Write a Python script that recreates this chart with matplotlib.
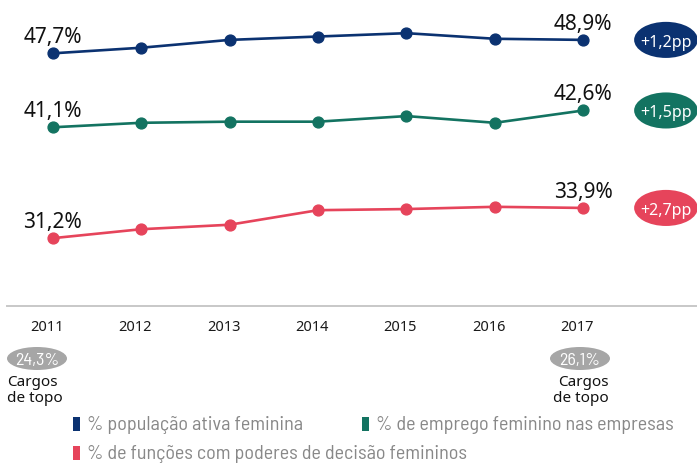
import matplotlib
matplotlib.use("Agg")
import matplotlib.pyplot as plt
from matplotlib.patches import Ellipse, Rectangle
from matplotlib import transforms

years = [2011, 2012, 2013, 2014, 2015, 2016, 2017]
pop_ativa = [47.7, 48.2, 48.9, 49.2, 49.5, 49.0, 48.9]
emprego = [41.1, 41.5, 41.6, 41.6, 42.1, 41.5, 42.6]
decisao = [31.2, 32.0, 32.4, 33.7, 33.8, 34.0, 33.9]
start_labels = ["47,7%", "41,1%", "31,2%"]
end_labels = ["48,9%", "42,6%", "33,9%"]
pp_labels = ["+1,2pp", "+1,5pp", "+2,7pp"]
topo_labels = ["24,3%", "26,1%"]
legend_names = ["% população ativa feminina",
                "% de emprego feminino nas empresas",
                "% de funções com poderes de decisão femininos"]

colors = ["#0b3271", "#137361", "#e6445b"]
main_font = ["Noto Sans", "DejaVu Sans"]
narrow_font = ["Barlow Semi Condensed", "Noto Sans", "DejaVu Sans"]
plt.rcParams["font.family"] = main_font

W, H = 697, 464
fig = plt.figure(figsize=(W / 100, H / 100), dpi=100)
ax = fig.add_axes([7 / W, 1 - 307.3 / H, 690 / W, 307.3 / H])
ax.set_xlim(2010.483, 2018.286)
ax.set_ylim(25.12, 52.55)

series = [pop_ativa, emprego, decisao]
for vals, col, s_lab, e_lab, pp in zip(series, colors, start_labels, end_labels, pp_labels):
    ax.plot(years, vals, color=col, lw=1.9, marker="o", ms=7.8, solid_capstyle="round")
    ax.annotate(s_lab, (years[0], vals[0]), xytext=(0, 8), textcoords="offset points",
                ha="center", va="baseline", fontsize=15, color="#111111")
    ax.annotate(e_lab, (years[-1], vals[-1]), xytext=(0, 8), textcoords="offset points",
                ha="center", va="baseline", fontsize=15, color="#111111")
    ax.add_patch(Ellipse((2017.935, vals[-1]), 0.72, 3.22, color=col, clip_on=False, lw=0))
    ax.text(2017.935, vals[-1], pp, ha="center", va="center_baseline", fontsize=11.5,
            color="white")

for side in ["top", "left", "right"]:
    ax.spines[side].set_visible(False)
ax.spines["bottom"].set_color("#c8c8c8")
ax.spines["bottom"].set_linewidth(1.4)
ax.set_yticks([])
ax.set_xticks(years)
ax.set_xticklabels([str(y) for y in years], fontsize=10.5, color="#1a1a1a")
ax.tick_params(axis="x", length=0, pad=9.5)
shift = transforms.ScaledTranslation(-6 / 100, 0, fig.dpi_scale_trans)
for lab in ax.get_xticklabels():
    lab.set_transform(lab.get_transform() + shift)

# cargos de topo
for lab, cx, ha, tx in zip(topo_labels, [37, 580], ["left", "right"], [7, 609]):
    fig.patches.append(Ellipse((cx / W, 1 - 359.5 / H), 60 / W, 23 / H,
                               transform=fig.transFigure, color="#a6a6a6", lw=0))
    fig.text(cx / W, 1 - 359.5 / H, lab, ha="center", va="center_baseline",
             fontsize=13, color="white", family=narrow_font, weight=400)
    fig.text(tx / W, 1 - 383 / H, "Cargos", ha=ha, va="center", fontsize=11,
             color="#111111")
    fig.text(tx / W, 1 - 399 / H, "de topo", ha=ha, va="center", fontsize=11,
             color="#111111")

# legend
leg_pos = [(73, 425), (362, 425), (73, 454)]
for (lx, ly), col, name in zip(leg_pos, colors, legend_names):
    fig.patches.append(Rectangle((lx / W, 1 - (ly + 7) / H), 7 / W, 14 / H,
                                 transform=fig.transFigure, color=col, lw=0))
    fig.text((lx + 14) / W, 1 - ly / H, name, ha="left", va="center",
             fontsize=14.5, color="#888888", family=narrow_font, weight=400)

fig.savefig("out.png", dpi=100)
